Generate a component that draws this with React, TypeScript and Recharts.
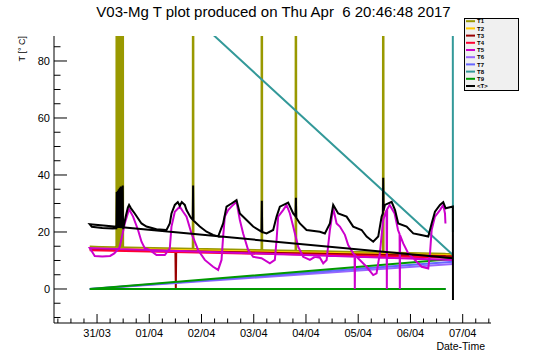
import React from 'react';
import { LineChart, Line, XAxis, YAxis } from 'recharts';

const FONT = '"Liberation Sans", Arial, Helvetica, sans-serif';

// x = day index (31/03 00:00 = 1), y = temperature [°C]
const dayLabels = ['31/03', '01/04', '02/04', '03/04', '04/04', '05/04', '06/04', '07/04'];
const yTickValues = [-10, -5, 0, 5, 10, 15, 20, 25, 30, 35, 40, 45, 50, 55, 60, 65, 70, 75, 80, 85];

type P = [number, number];

const T1: P[] = [
  [7.814, 12.3], [0.86, 14.8], [1.37, 14.6],
  [1.377, 300], [1.387, 14.6], [1.396, 300], [1.406, 14.6], [1.416, 300], [1.425, 14.6],
  [1.435, 300], [1.444, 14.6], [1.454, 300], [1.464, 14.6], [1.473, 300], [1.483, 14.6],
  [1.492, 300], [1.5, 14.6],
  [2.832, 14.1], [2.839, 300], [2.846, 14.1],
  [4.148, 13.6], [4.155, 300], [4.162, 13.6],
  [4.8, 13.4], [4.807, 300], [4.814, 13.4],
  [6.472, 12.8], [6.479, 300], [6.486, 12.8],
  [7.674, 12.4],
];
const T2: P[] = [[7.814, 11.8], [0.86, 14.3], [7.674, 11.85]];
const T3: P[] = [[7.814, 11.5], [0.86, 13.9], [2.5, 13.3], [2.508, 0], [2.516, 13.3], [7.674, 11.55]];
const T4: P[] = [[7.814, 11.0], [0.86, 13.6], [7.674, 11.05]];
const T5: P[] = [
  [7.814, 10.2], [0.86, 14.4], [0.956, 11.6], [1.1, 11.4], [1.25, 11.6], [1.33, 12.5], [1.4, 13.9],
  [1.435, 14.8], [1.531, 23.0], [1.613, 28.0], [1.69, 25.4], [1.785, 20.7], [1.851, 16.6],
  [1.914, 14.3], [2.01, 13.7], [2.138, 11.9], [2.297, 11.9], [2.393, 14.3], [2.425, 21.9],
  [2.489, 27.1], [2.584, 28.9], [2.648, 27.1], [2.713, 25.4], [2.808, 19.5], [2.935, 13.7],
  [3.063, 10.2], [3.222, 7.8], [3.318, 6.7], [3.383, 10.2], [3.414, 18.4], [3.446, 25.4],
  [3.51, 27.7], [3.605, 29.5], [3.67, 30.6], [3.734, 24.2], [3.797, 19.5], [3.893, 13.7],
  [3.989, 11.3], [4.149, 10.8], [4.308, 9.0], [4.404, 10.2], [4.437, 17.2], [4.467, 25.4],
  [4.563, 27.7], [4.628, 29.5], [4.692, 26.5], [4.755, 21.9], [4.851, 14.8], [4.946, 11.3],
  [5.075, 10.2], [5.171, 11.3], [5.266, 11.0], [5.33, 9.0], [5.395, 10.2], [5.458, 20.7],
  [5.521, 28.3], [5.586, 23.0], [5.649, 21.9], [5.745, 19.0], [5.808, 15.4], [5.904, 12.5],
  [5.93, 12.0], [5.935, 0], [5.94, 11.8], [6.031, 10.2], [6.159, 7.8], [6.287, 4.9],
  [6.351, 5.5], [6.414, 12.5], [6.477, 24.2], [6.542, 27.7], [6.548, 0], [6.554, 28.0],
  [6.602, 29.5], [6.697, 26.5], [6.762, 20.7], [6.792, 19.2], [6.797, 0], [6.802, 18.8],
  [6.862, 16.0], [6.958, 12.5], [7.086, 10.2], [7.215, 7.8], [7.341, 7.2], [7.374, 12.5],
  [7.406, 20.7], [7.469, 25.4], [7.565, 27.7], [7.628, 29.5], [7.661, 26.5], [7.67, 23.0],
];
const T6: P[] = [[7.814, 8.8], [0.86, 0], [7.674, 0]];
const T7: P[] = [[7.814, 9.6], [0.86, 0], [7.674, 0]];
const T8: P[] = [[7.814, 11.9], [0.86, 129], [7.81, 129], [7.813, 20]];
const T9: P[] = [[7.814, 10.5], [0.86, 0], [7.674, 0]];
const TAVG: P[] = [
  [7.814, 10.8], [0.86, 22.7], [0.9, 21.8], [1.1, 21.4], [1.3, 21.2], [1.37, 21.3],
  [1.377, 34], [1.387, 21.5], [1.396, 34.5], [1.406, 21.5], [1.416, 35], [1.425, 21.5],
  [1.435, 35.5], [1.444, 21.5], [1.454, 36], [1.464, 21.5], [1.473, 36], [1.483, 21.5],
  [1.492, 36.3], [1.498, 21.0], [1.55, 25.5], [1.59, 28.6], [1.613, 29.5], [1.65, 28.3],
  [1.722, 26.5], [1.851, 23.0], [1.946, 21.9], [2.138, 21.0], [2.33, 20.7], [2.393, 23.0],
  [2.425, 26.5], [2.489, 29.5], [2.546, 30.5], [2.584, 29.2], [2.622, 30.5], [2.68, 29.5],
  [2.713, 27.7], [2.795, 25.0], [2.832, 24.3], [2.839, 36.3], [2.846, 24.0], [2.967, 21.9],
  [3.096, 20.1], [3.222, 19.0], [3.318, 18.4], [3.414, 23.0], [3.479, 28.9], [3.575, 30.0],
  [3.67, 31.2], [3.734, 26.5], [3.862, 24.2], [3.989, 21.9], [4.148, 20.1], [4.155, 31.0],
  [4.162, 20.0], [4.245, 19.5], [4.372, 20.7], [4.437, 25.4], [4.5, 28.9], [4.659, 30.3],
  [4.755, 26.5], [4.8, 25.5], [4.807, 32.0], [4.814, 25.0], [4.883, 23.0], [5.011, 20.7],
  [5.266, 20.1], [5.362, 19.5], [5.458, 23.0], [5.521, 29.5], [5.617, 26.5], [5.778, 25.4],
  [5.904, 21.9], [6.065, 20.7], [6.161, 18.4], [6.287, 16.6], [6.383, 18.4], [6.448, 25.4],
  [6.472, 26.5], [6.479, 39.0], [6.486, 27.5], [6.511, 29.5], [6.64, 30.6], [6.705, 27.7],
  [6.766, 23.0], [6.927, 21.9], [7.054, 19.5], [7.182, 19.0], [7.341, 18.4], [7.406, 23.0],
  [7.469, 27.1], [7.565, 29.5], [7.628, 30.5], [7.674, 28.3], [7.812, 28.9], [7.814, -3.9],
];

const legendOrder = [
  { name: 'T1', color: '#999900', data: T1 },
  { name: 'T2', color: '#ffcc00', data: T2 },
  { name: 'T3', color: '#990000', data: T3 },
  { name: 'T4', color: '#ff0033', data: T4 },
  { name: 'T5', color: '#cc00cc', data: T5 },
  { name: 'T6', color: '#9966ff', data: T6 },
  { name: 'T7', color: '#6666ff', data: T7 },
  { name: 'T8', color: '#339999', data: T8 },
  { name: 'T9', color: '#009900', data: T9 },
  { name: '<T>', color: '#000000', data: TAVG },
];
// drawing order (magenta drawn above the flat sensors, mean on top)
const drawOrder = ['T1', 'T2', 'T3', 'T4', 'T6', 'T7', 'T8', 'T9', 'T5', '<T>'];

const toRows = (a: P[]) => a.map(([d, v]) => ({ d, v }));

const xTicks: number[] = [];
for (let k = 1; k <= 34; k++) xTicks.push(k / 4);

function XTick(props: any) {
  const { x, y, payload } = props;
  const v = payload.value as number;
  const k = Math.round(v * 4);
  const major = k % 4 === 0;
  const len = major ? 9 : 4.5;
  return (
    <g>
      <line x1={x} x2={x} y1={y} y2={y - len} stroke="#000" strokeWidth={1} />
      {major && (
        <text x={x} y={y + 14} textAnchor="middle" fontSize={11} fontFamily={FONT} fill="#000">
          {dayLabels[Math.round(v) - 1]}
        </text>
      )}
    </g>
  );
}

function YTick(props: any) {
  const { x, y, payload } = props;
  const v = payload.value as number;
  const major = v % 20 === 0;
  const len = major ? 13 : 6.5;
  return (
    <g>
      <line x1={x} x2={x + len} y1={y} y2={y} stroke="#000" strokeWidth={1} />
      {major && (
        <text x={x - 4} y={y} dy="0.36em" textAnchor="end" fontSize={11} fontFamily={FONT} fill="#000">
          {v}
        </text>
      )}
    </g>
  );
}

function LegendBox() {
  return (
    <svg width={56} height={74} style={{ display: 'block' }}>
      <rect x={0.5} y={0.5} width={54} height={72} fill="#f0f0f0" stroke="#000" strokeWidth={1} />
      {legendOrder.map((s, i) => {
        const yy = 3.2 + i * 7.2;
        return (
          <g key={s.name}>
            <line x1={2} x2={11} y1={yy} y2={yy} stroke={s.color} strokeWidth={2} />
            <text x={13} y={yy} dy="0.36em" fontSize={6} fontWeight="bold" fontFamily={FONT} fill="#000">
              {s.name}
            </text>
          </g>
        );
      })}
    </svg>
  );
}

export default function App() {
  return (
    <div style={{ position: 'absolute', left: 0, top: 0, width: 546, height: 362, background: '#fff' }}>
      <LineChart width={546} height={362} margin={{ top: 36, right: 55, bottom: 0, left: 0 }}>
        <XAxis
          dataKey="d"
          type="number"
          domain={[0.176, 8.542]}
          allowDataOverflow
          ticks={xTicks}
          interval={0}
          tick={XTick}
          tickLine={false}
          tickSize={0}
          tickMargin={0}
          height={39}
          axisLine={{ stroke: '#000' }}
        />
        <XAxis xAxisId="top" orientation="top" type="number" domain={[0, 1]} height={0} tick={false} tickLine={false} axisLine={{ stroke: '#000' }} />
        <YAxis
          type="number"
          domain={[-11.93, 88.77]}
          allowDataOverflow
          ticks={yTickValues}
          interval={0}
          tick={YTick}
          tickLine={false}
          tickSize={0}
          tickMargin={0}
          width={54}
          axisLine={{ stroke: '#000' }}
        />
        <YAxis yAxisId="right" orientation="right" type="number" domain={[0, 1]} width={0} tick={false} tickLine={false} axisLine={{ stroke: '#000' }} />
        {drawOrder.map((n) => {
          const s = legendOrder.find((q) => q.name === n)!;
          return (
            <Line
              key={s.name}
              name={s.name}
              data={toRows(s.data)}
              dataKey="v"
              type="linear"
              stroke={s.color}
              strokeWidth={2}
              dot={false}
              activeDot={false}
              isAnimationActive={false}
            />
          );
        })}
      </LineChart>
      <svg width={546} height={362} style={{ position: 'absolute', left: 0, top: 0, pointerEvents: 'none' }}>
        <text x={273.5} y={17} textAnchor="middle" fontSize={15} fontFamily={FONT} fill="#000" xmlSpace="preserve" style={{ whiteSpace: 'pre' }}>
          {'V03-Mg T plot produced on Thu Apr  6 20:46:48 2017'}
        </text>
        <text transform="translate(25,36) rotate(-90)" textAnchor="end" fontSize={9} fontFamily={FONT} fill="#000" xmlSpace="preserve" style={{ whiteSpace: 'pre' }}>
          {'T [° C]'}
        </text>
        <text x={485} y={350} textAnchor="end" fontSize={10.5} fontFamily={FONT} fill="#000">
          Date-Time
        </text>
      </svg>
      <div style={{ position: 'absolute', left: 464, top: 18 }}>
        <LegendBox />
      </div>
    </div>
  );
}
